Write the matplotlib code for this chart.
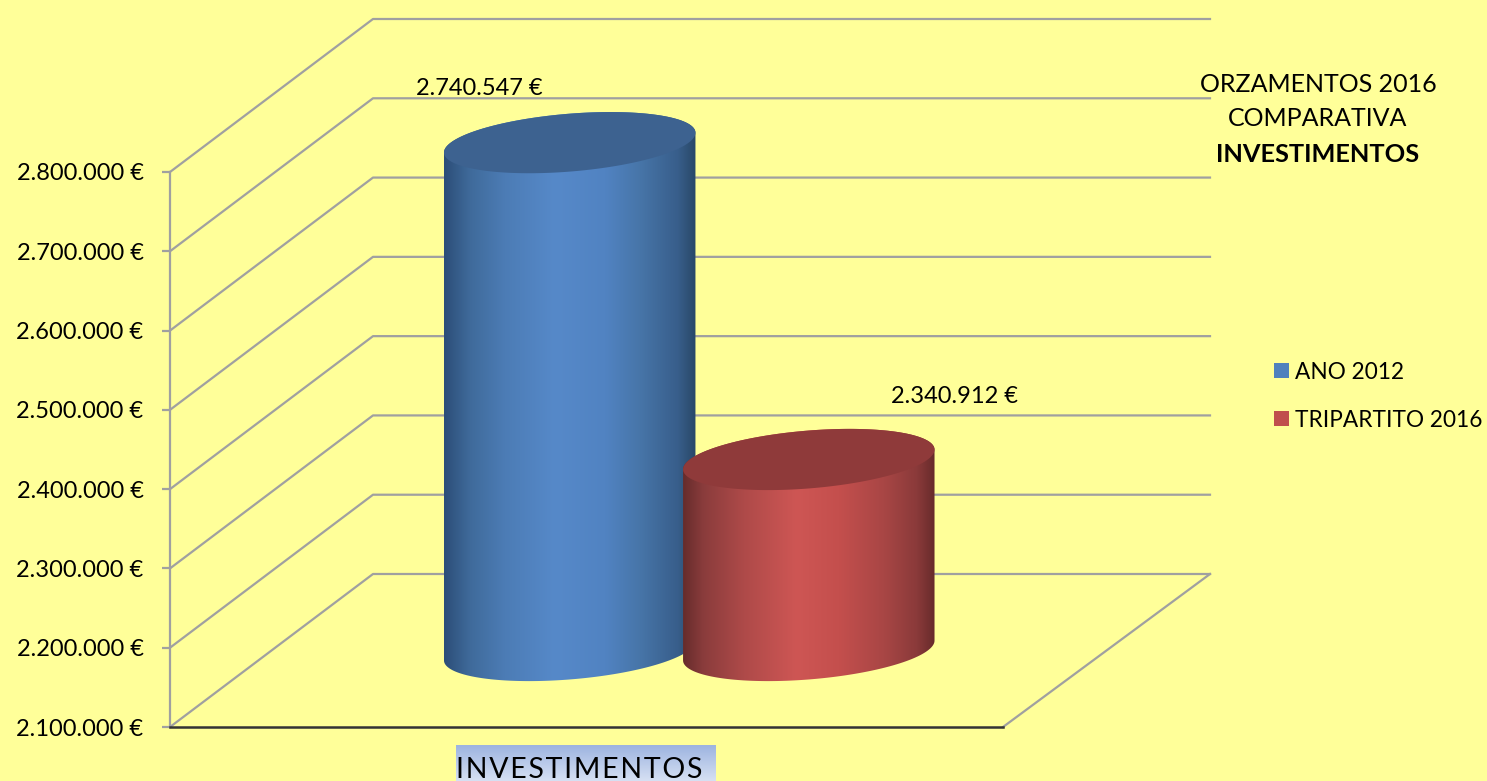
import numpy as np
import matplotlib
matplotlib.use("Agg")
import matplotlib.pyplot as plt
from matplotlib.colors import LinearSegmentedColormap
from matplotlib.patches import Patch, Polygon

plt.rcParams['font.family'] = ['Lato', 'DejaVu Sans']

# values
categories = ["INVESTIMENTOS"]
series_names = ["ANO 2012", "TRIPARTITO 2016"]
ano_2012 = [2740547]
tripartito_2016 = [2340912]
y_ticks = [2100000, 2200000, 2300000, 2400000, 2500000, 2600000, 2700000, 2800000]
title_lines = ["ORZAMENTOS 2016", "COMPARATIVA", "INVESTIMENTOS"]


def euro(v):
    return f"{v:,.0f} €".replace(",", ".")


W, H = 1487, 781
YELLOW = "#FFFF99"
GRID = "#A0A0A0"
FS = 17

fig = plt.figure(figsize=(W / 100, H / 100), dpi=100, facecolor=YELLOW)
# front plane of the fake 3D box
ax = fig.add_axes([170 / W, 1 - 727 / H, 833 / W, 555 / H])
ax.patch.set_alpha(0)
ax.set_xlim(0, 1)
ax.set_ylim(2100000, 2800000)

# how far the back wall is pushed, in data units
depth_x = 203 / 833
depth_y = 153 / 555 * 700000
back_right = (1210 - 170) / 833

for v in y_ticks:
    ax.plot([0, depth_x, back_right], [v, v + depth_y, v + depth_y], color=GRID, lw=1.6, clip_on=False, zorder=1)
ax.plot([1, back_right], [y_ticks[0], y_ticks[0] + depth_y], color=GRID, lw=1.6, clip_on=False, zorder=1)

blue_cmap = LinearSegmentedColormap.from_list("b", [(0, "#2C4E78"), (0.1, "#3F6A9A"), (0.24, "#4C7CB5"), (0.44, "#5689C9"), (0.64, "#5183C2"), (0.78, "#4775A8"), (0.93, "#385E8B"), (1, "#294868")])
red_cmap = LinearSegmentedColormap.from_list("r", [(0, "#672C2C"), (0.08, "#8A3C3C"), (0.24, "#AE4A49"), (0.45, "#CE5654"), (0.62, "#C44F4D"), (0.8, "#A84645"), (0.93, "#8A3A3A"), (1, "#682B2B")])


def cylinder(x, value, cmap, top_color):
    # disc lies on the floor plane: width along x, radius along the depth direction
    a = 119 / 833
    r = 0.2
    base = y_ticks[0] + depth_y / 2
    cx = x + depth_x / 2
    cy = value + depth_y / 2
    t0 = np.arctan2(r * depth_x, a)
    half = np.hypot(a, r * depth_x)

    def disc(t, yc):
        return cx + a * np.cos(t) + r * depth_x * np.sin(t), yc + r * depth_y * np.sin(t)

    bx, by = disc(np.linspace(t0 + np.pi, t0 + 2 * np.pi, 120), base)
    tx, ty = disc(np.linspace(t0, t0 + np.pi, 120), cy)
    outline = Polygon(np.column_stack([np.r_[bx, tx], np.r_[by, ty]]), transform=ax.transData, fc="none", ec="none")
    ax.add_patch(outline)
    grad = np.linspace(0, 1, 256).reshape(1, -1)
    im = ax.imshow(grad, cmap=cmap, aspect="auto", extent=[cx - half, cx + half, base - 2 * r * depth_y, cy + 2 * r * depth_y], zorder=3, interpolation="bilinear")
    im.set_clip_path(outline)
    im.set_clip_box(fig.bbox)
    ex, ey = disc(np.linspace(0, 2 * np.pi, 240), cy)
    ax.add_patch(Polygon(np.column_stack([ex, ey]), fc=top_color, ec="none", zorder=3, clip_on=False))


bar_x = [0.358, 0.645]
cylinder(bar_x[0], ano_2012[0], blue_cmap, "#3D6290")
cylinder(bar_x[1], tripartito_2016[0], red_cmap, "#8F3A3A")
ax.set_xlim(0, 1)
ax.set_ylim(2100000, 2800000)

ax.annotate(euro(ano_2012[0]), (bar_x[0] + depth_x / 2, ano_2012[0] + depth_y / 2), xytext=(-65, 39), textcoords="offset points", ha="center", va="center", fontsize=FS, annotation_clip=False)
ax.annotate(euro(tripartito_2016[0]), (bar_x[1] + depth_x / 2, tripartito_2016[0] + depth_y / 2), xytext=(105, 45.5), textcoords="offset points", ha="center", va="center", fontsize=FS, annotation_clip=False)

ax.set_yticks(y_ticks)
ax.set_yticklabels([euro(v) for v in y_ticks], fontsize=FS)
ax.tick_params(axis="y", length=6, width=1.6, color=GRID, pad=13)
ax.set_xticks([])
for s in ["top", "right"]:
    ax.spines[s].set_visible(False)
ax.spines["left"].set_color(GRID)
ax.spines["left"].set_linewidth(1.6)
ax.spines["bottom"].set_color("#333333")
ax.spines["bottom"].set_linewidth(1.8)

# category label with its pale blue box
box = fig.add_axes([456 / W, 0, 260 / W, 36 / H])
box.imshow(np.linspace(0, 1, 64).reshape(-1, 1), aspect="auto", cmap=LinearSegmentedColormap.from_list("g", ["#9DB4E0", "#D6E0F3"]))
box.axis("off")
fig.text(456 / W, 1 - 778 / H, "\u200a".join(categories[0]), fontsize=20.5, ha="left", va="baseline")

for i, (line, py) in enumerate(zip(title_lines, [85, 119, 154])):
    fig.text(1318 / W, 1 - py / H, line, ha="center", va="center", fontsize=18.3 if i == 2 else 18, fontweight="bold" if i == 2 else "normal")

fig.legend(handles=[Patch(fc="#4F81BD", label=series_names[0]), Patch(fc="#C0504D", label=series_names[1])],
           loc="upper left", bbox_to_anchor=(1267 / W, 1 - 355 / H), frameon=False, fontsize=16.3,
           handlelength=0.66, handleheight=0.66, handletextpad=0.26, labelspacing=1.19, borderpad=0.3, borderaxespad=0)

fig.savefig("out.png", dpi=100, facecolor=YELLOW)
